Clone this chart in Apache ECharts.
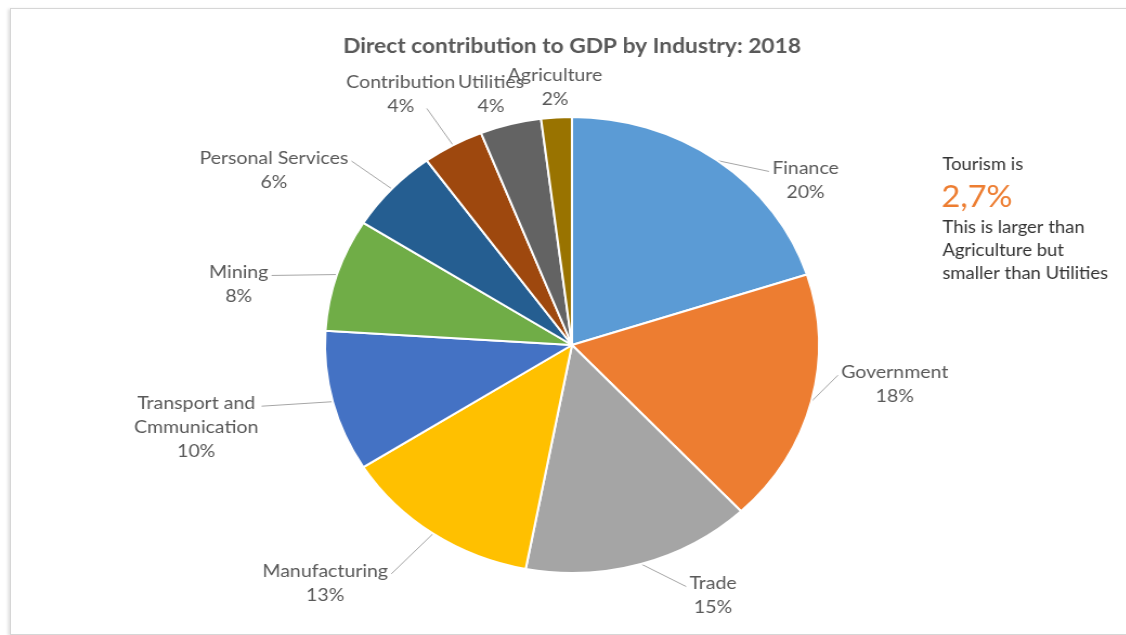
<!DOCTYPE html>
<html>
<head>
<meta charset="utf-8">
<title>Direct contribution to GDP by Industry: 2018</title>
<script src="https://cdn.jsdelivr.net/npm/echarts@6/dist/echarts.min.js"></script>
<style>
  html, body { margin: 0; padding: 0; background: #fff; overflow: hidden; }
  #frame {
    position: absolute; left: 10px; top: 8px; width: 1200px; height: 625px;
    border: 1px solid #d6d6d6; box-shadow: -2px 1px 3px rgba(0,0,0,0.13);
  }
  /* the chart is laid out on a narrower canvas and stretched horizontally */
  #chart {
    position: absolute; left: 0; top: 0; width: 1040px; height: 635px;
    transform: scaleX(1.0833); transform-origin: 0 0;
  }
</style>
</head>
<body>
<div id="frame"></div>
<div id="chart"></div>
<script>
// Industry shares of direct GDP contribution, 2018 (percent)
const categories = [
  'Finance', 'Government', 'Trade', 'Manufacturing', 'Transport and\nCmmunication',
  'Mining', 'Personal Services', 'Contribution', 'Utilities', 'Agriculture'
];
const shares = [20, 18, 15, 13, 10, 8, 6, 4, 4, 2];
const titleText = 'Direct contribution to GDP by Industry: 2018';
const tourismShare = '2,7%';
const noteHead = 'Tourism is';
const noteBody = ['This is larger than', 'Agriculture but', 'smaller than Utilities'];

// Office palette, one colour per slice
const sliceColors = ['#5B9BD5', '#ED7D31', '#A5A5A5', '#FFC000', '#4472C4',
                     '#70AD47', '#255E91', '#9E480E', '#636363', '#997300'];
// nudges of each label block from its default outside position [dx, dy]
const labelNudge = [[38, 28], [11, -20], [35, 22], [-29, 41], [-52, 23],
                    [-47, 13], [-26, -12], [14, -42], [22, -20], [50, -20]];
const sideLeader = [0, 1, 2, 3, 4, 5, 6];   // leaders meeting the first text line
const underLeader = [7];                     // leader meeting the value line from below right
const noLeader = [8, 9];                     // labels close enough to skip a leader
const LINE_H = 24;
const FONT = 'Lato, "Open Sans", sans-serif';

const chart = echarts.init(document.getElementById('chart'), null, { renderer: 'canvas' });

const pieData = categories.map((name, i) => ({
  name: name,
  value: shares[i],
  itemStyle: { color: sliceColors[i] },
  labelLine: { show: !noLeader.includes(i) }
}));

const noteStyle = { font: '17px ' + FONT, fill: '#333333', align: 'left', verticalAlign: 'middle' };

chart.setOption({
  animation: false,
  graphic: [
    { type: 'text', x: 528, y: 46,
      style: { text: titleText, font: 'bold 21px ' + FONT, fill: '#595959', align: 'center', verticalAlign: 'middle' } },
    { type: 'text', x: 870, y: 165, style: Object.assign({ text: noteHead }, noteStyle) },
    { type: 'text', x: 869, y: 197,
      style: { text: tourismShare, font: '30px ' + FONT, fill: '#ED7D31', align: 'left', verticalAlign: 'middle' } },
    { type: 'text', x: 870, y: 228, style: Object.assign({ text: noteBody[0] }, noteStyle) },
    { type: 'text', x: 870, y: 251, style: Object.assign({ text: noteBody[1] }, noteStyle) },
    { type: 'text', x: 870, y: 274, style: Object.assign({ text: noteBody[2] }, noteStyle) }
  ],
  series: [{
    type: 'pie',
    center: [528, 345],
    radius: 228,
    startAngle: 90,
    clockwise: true,
    avoidLabelOverlap: false,
    itemStyle: { borderColor: '#ffffff', borderWidth: 2 },
    label: {
      show: true,
      position: 'outside',
      distanceToLabelLine: 5,
      formatter: function (p) {
        const rows = p.name.split('\n').concat([p.value + '%']);
        return rows.map(r => '{c|' + r + '}').join('\n');
      },
      rich: {
        c: { align: 'center', fontFamily: FONT, fontSize: 18, lineHeight: LINE_H, color: '#595959' }
      }
    },
    labelLine: {
      show: true, length: 10, length2: 2, smooth: false,
      lineStyle: { color: '#a6a6a6', width: 1 }
    },
    labelLayout: function (p) {
      const i = p.dataIndex;
      const n = labelNudge[i];
      const r = p.labelRect;
      const ax = p.align === 'right' ? r.x + r.width : (p.align === 'center' ? r.x + r.width / 2 : r.x);
      const ay = r.y + r.height / 2;
      const x = ax + n[0];
      const y = ay + n[1];
      const out = { x: x, y: y };
      if (!p.labelLinePoints) return out;
      const start = p.labelLinePoints[0].slice();
      if (sideLeader.includes(i)) {
        // leader runs straight from the slice edge to the first line of the label
        const firstLineY = y - (r.height - LINE_H) / 2;
        const endX = p.align === 'right' ? x + 3 : x - 3;
        out.labelLinePoints = [start, [endX, firstLineY]];
      } else if (underLeader.includes(i)) {
        // leader ends just past the value line, right of the block centre
        const centreX = p.align === 'right' ? x - r.width / 2 : x + r.width / 2;
        out.labelLinePoints = [start, [centreX + 24, y + LINE_H / 2 + 2]];
      }
      return out;
    },
    emphasis: { disabled: true },
    data: pieData
  }]
});
</script>
</body>
</html>
